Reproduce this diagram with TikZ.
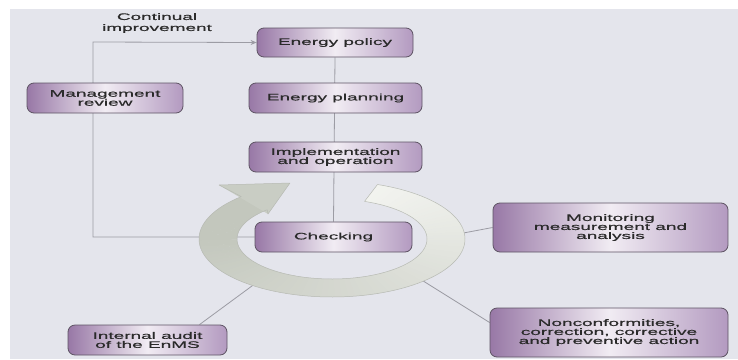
\documentclass[tikz,border=0pt]{standalone}
\usepackage{fontspec}
\newfontfamily\labelfont{Liberation Sans}[FakeStretch=2.0,FakeBold=0.6]
\usetikzlibrary{arrows.meta,backgrounds}
\definecolor{paper}{HTML}{E4E5EC}
\definecolor{boxleft}{HTML}{9878A6}
\definecolor{boxmid}{HTML}{F1ECF3}
\definecolor{boxright}{HTML}{B39AC0}
\definecolor{boxedge}{HTML}{5E5464}
\definecolor{inkcol}{HTML}{2A2A2A}
\definecolor{wirecol}{HTML}{9C9CA4}
\definecolor{ringlight}{HTML}{F2F3EF}
\definecolor{ringdark}{HTML}{C3C7BD}
\definecolor{ringtip}{HTML}{C9CDC4}
\definecolor{ringedge}{HTML}{B7BAB3}
\tikzset{
  stepbox/.style={draw=boxedge, line width=0.8pt, rounded corners=7pt,
    left color=boxleft, right color=boxright, middle color=boxmid,
    text=inkcol, align=center, inner sep=0pt,
    font=\labelfont\fontsize{9.5}{9}\selectfont},
  wire/.style={draw=wirecol, line width=0.8pt},
  caption/.style={text=inkcol, align=center, inner sep=0pt,
    font=\labelfont\fontsize{9.5}{11}\selectfont}
}
\begin{document}
\begin{tikzpicture}[x=1pt,y=-1pt]
\useasboundingbox (0,0) rectangle (738,359);

% boxes of the cycle
\node[stepbox, minimum width=156pt, minimum height=29pt] (pol) at (335,42.5) {Energy policy};
\node[stepbox, minimum width=173pt, minimum height=30pt] (pla) at (335.5,98) {Energy planning};
\node[stepbox, minimum width=173pt, minimum height=30pt] (imp) at (335.5,157) {Implementation\\and operation};
\node[stepbox, minimum width=157pt, minimum height=30pt] (chk) at (333.5,237) {Checking};
\node[stepbox, minimum width=156pt, minimum height=30pt] (mgt) at (105,98) {Management\\review};
\node[stepbox, minimum width=235pt, minimum height=49pt] (mon) at (610.5,227.5) {Monitoring\\measurement and\\analysis};
\node[stepbox, minimum width=238pt, minimum height=49pt] (non) at (609,332.5) {Nonconformities,\\correction, corrective\\and preventive action};
\node[stepbox, minimum width=159pt, minimum height=30pt] (aud) at (147.5,340) {Internal audit\\of the EnMS};

\node[caption] (cap) at (157,23) {Continual\\improvement};

% helper points for the feedback loop and the side connectors
\coordinate (lx) at (93,42);
\coordinate (ringE) at (458,234);
\coordinate (ringSE) at (420,279);
\coordinate (ringSW) at (256,283);

\begin{scope}[on background layer]
  % paper
  \fill[white] (0,0) rectangle (738,359);
  \fill[paper] (10,9) rectangle (738,359);

  % connectors
  \draw[wire] (pol.south) -- (chk.north);
  \draw[wire, -{Stealth[length=6pt,width=5pt]}]
    (chk.west) -- (chk.west -| lx) -- (lx) -- (pol.west);
  \draw[wire] (ringE) -- (mon.west);
  \draw[wire] (ringSE) -- ([yshift=10pt]non.west);
  \draw[wire] (ringSW) -- ([xshift=52pt]aud.north);

  % circular arrow: shaded band from its tail round to the head
  \foreach \i in {0,...,98}{
    \pgfmathsetmacro\ta{70-3*\i}
    \pgfmathsetmacro\tb{70-3*\i-3.5}
    \pgfmathsetmacro\p{min(100,\i*1.2)}
    \fill[ringdark!\p!ringlight]
      ({332+133*cos(\ta)},{239-58*sin(\ta)}) -- ({332+133*cos(\tb)},{239-58*sin(\tb)})
      -- ({332+95*cos(\tb)},{239-40*sin(\tb)}) -- ({332+95*cos(\ta)},{239-40*sin(\ta)}) -- cycle;
  }
  \fill[ringtip] (219,185) -- (290,183) -- (268,214) -- cycle;
  % faint rim of the band
  \draw[ringedge, line width=0.5pt, line join=round]
    plot[domain=70:-227,samples=120] ({332+133*cos(\x)},{239-58*sin(\x)})
    -- (219,185) -- (290,183) -- (268,214)
    -- plot[domain=-227:70,samples=120] ({332+95*cos(\x)},{239-40*sin(\x)})
    -- cycle;
\end{scope}
\end{tikzpicture}
\end{document}
